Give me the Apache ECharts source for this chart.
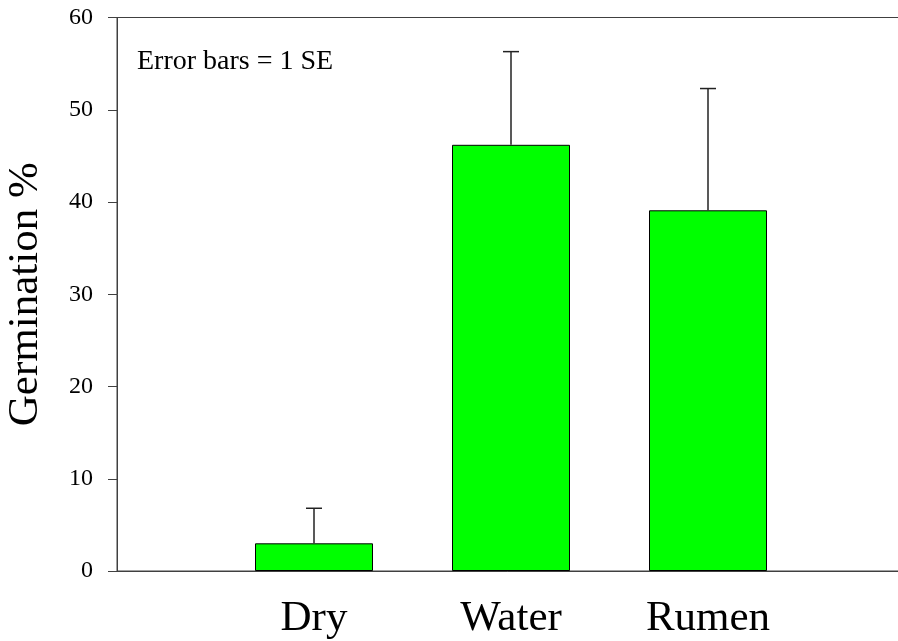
<!DOCTYPE html>
<html>
<head>
<meta charset="utf-8">
<title>Germination %</title>
<script src="https://cdn.jsdelivr.net/npm/echarts@6/dist/echarts.min.js"></script>
<style>
  html, body { margin: 0; padding: 0; background: #fff; }
  #main { width: 898px; height: 641px; }
</style>
</head>
<body>
<div id="main"></div>
<script>
// categories on the x axis (empty slots keep the spacing of the original plot)
const categories = ['', 'Dry', 'Water', 'Rumen', ''];
// mean germination %
const germination = [null, 3.0, 46.2, 39.1, null];
// standard error (upper bar only)
const standardError = [null, 3.8, 10.1, 13.2, null];
const yTicks = [0, 10, 20, 30, 40, 50, 60];

const serif = "'Liberation Serif', 'Times New Roman', serif";
const axisColor = '#404040';

// 基于准备好的dom，初始化echarts实例
const myChart = echarts.init(document.getElementById('main'));

const errorData = [];
categories.forEach((c, i) => {
    if (germination[i] != null) errorData.push([i, germination[i], germination[i] + standardError[i]]);
});

myChart.setOption({
    animation: false,
    grid: {
        left: 117,
        top: 17.5,
        height: 553.5,
        width: 788,
        containLabel: false,
        outerBoundsMode: 'none',
        show: true,
        borderColor: axisColor,
        borderWidth: 1,
        backgroundColor: 'transparent'
    },
    graphic: [{
        type: 'text',
        left: 137,
        top: 48,
        style: {
            text: 'Error bars = 1 SE',
            font: '28px ' + serif,
            fill: '#000'
        }
    }],
    xAxis: {
        type: 'category',
        data: categories,
        boundaryGap: false,
        axisLine: { lineStyle: { color: axisColor, width: 1 } },
        axisTick: { show: false },
        axisLabel: {
            interval: 0,
            margin: 26,
            color: '#000',
            fontSize: 43,
            fontFamily: serif
        },
        splitLine: { show: false }
    },
    yAxis: {
        type: 'value',
        min: yTicks[0],
        max: yTicks[yTicks.length - 1],
        interval: 10,
        name: 'Germination %',
        nameLocation: 'middle',
        nameRotate: 90,
        nameGap: 70,
        nameTextStyle: { fontSize: 43, fontFamily: serif, color: '#000' },
        axisLine: { show: true, lineStyle: { color: axisColor, width: 1 } },
        axisTick: { show: true, inside: false, length: 9, lineStyle: { color: axisColor } },
        axisLabel: { margin: 24, color: '#000', fontSize: 24, fontFamily: serif },
        splitLine: { show: false }
    },
    series: [
        {
            name: 'Germination',
            type: 'bar',
            data: germination,
            barWidth: 118,
            itemStyle: { color: '#00ff00', borderColor: '#000', borderWidth: 1 }
        },
        {
            name: 'SE',
            type: 'custom',
            data: errorData,
            z: 3,
            renderItem: function (params, api) {
                const base = api.coord([api.value(0), api.value(1)]);
                const top = api.coord([api.value(0), api.value(2)]);
                const capHalf = 8;
                return {
                    type: 'group',
                    children: [
                        {
                            type: 'line',
                            shape: { x1: base[0], y1: base[1], x2: top[0], y2: top[1] },
                            style: { stroke: '#222', lineWidth: 1.5 }
                        },
                        {
                            type: 'line',
                            shape: { x1: top[0] - capHalf, y1: top[1], x2: top[0] + capHalf, y2: top[1] },
                            style: { stroke: '#222', lineWidth: 1.5 }
                        }
                    ]
                };
            }
        }
    ]
});
</script>
</body>
</html>
